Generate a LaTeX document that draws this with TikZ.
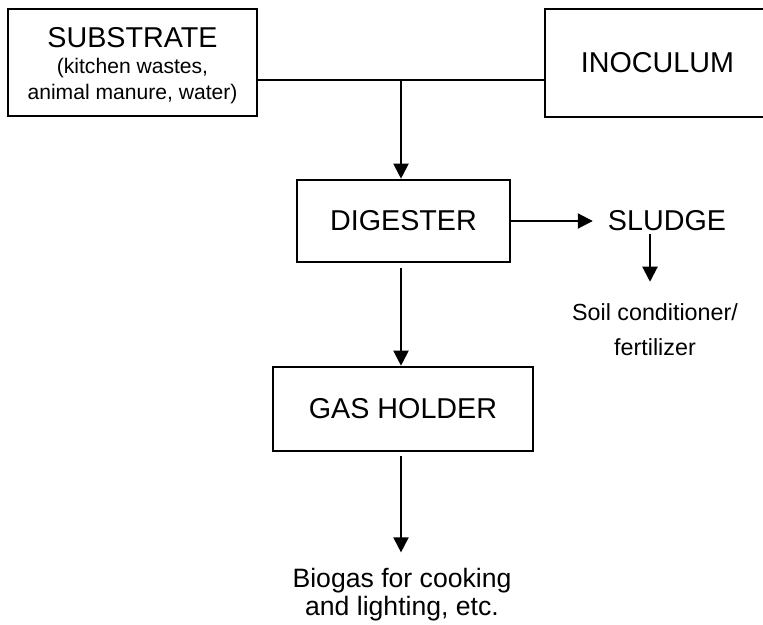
\documentclass[tikz,border=0pt]{standalone}
\usepackage{fontspec}
\setmainfont{Liberation Sans}
\usetikzlibrary{arrows.meta,positioning}

\begin{document}
\begin{tikzpicture}[x=1pt, y=-1pt,
        box/.style={draw, line width=2.6pt, inner sep=0pt, align=center,
                    font=\fontsize{28.7}{32}\selectfont},
        big/.style={inner sep=0pt, align=center, font=\fontsize{28.7}{32}\selectfont},
        note/.style={inner sep=0pt, align=center, font=\fontsize{21.1}{26}\selectfont},
        soiltxt/.style={inner sep=0pt, align=center, font=\fontsize{23.3}{35}\selectfont},
        gastxt/.style={inner sep=0pt, align=center, font=\fontsize{26.6}{28}\selectfont},
        arr/.style={-{Triangle[length=15pt,width=15pt]}, line width=2pt},
    ]
        \useasboundingbox (0,0) rectangle (763,624);

        % Row 1: feed
        \node[box, minimum width=249pt, minimum height=107pt] (sub) at (132.5,62.5) {};
        \node[big, anchor=base] (subname) at (132.5,47) {SUBSTRATE};
        \node[note] (subnote) at (132.5,81.5) {(kitchen wastes,\\animal manure, water)};
        \node[box, minimum width=225pt, minimum height=108pt] (inoc) at (657.5,63) {INOCULUM};
        \coordinate (jn) at (401,80);

        % Middle: digester and its sludge
        \node[box, minimum width=213pt, minimum height=82pt] (dig) at (403.5,221) {DIGESTER};
        \node[big] (sludge) at (667,221) {SLUDGE};
        \node[soiltxt] (soil) at (655,330) {Soil conditioner/\\fertilizer};

        % Bottom: gas
        \node[box, minimum width=260pt, minimum height=84pt] (gas) at (403,409) {GAS HOLDER};
        \node[gastxt] (bio) at (402,595) {Biogas for cooking\\and lighting, etc.};

        % Connectors
        \draw[line width=2pt] (sub.east |- jn) -- (inoc.west |- jn);
        \draw[arr] (jn) -- (jn |- dig.north);
        \draw[arr] (dig.east) -- ([xshift=-15pt]sludge.west);
        \draw[arr] ([xshift=-17pt,yshift=-3pt]sludge.south) -- ([xshift=-5pt,yshift=22pt]soil.north);
        \draw[arr] ([yshift=-5pt]dig.south -| jn) -- (gas.north -| jn);
        \draw[arr] ([yshift=-4pt]gas.south -| jn) -- ([yshift=16pt]bio.north -| jn);
    \end{tikzpicture}
\end{document}
